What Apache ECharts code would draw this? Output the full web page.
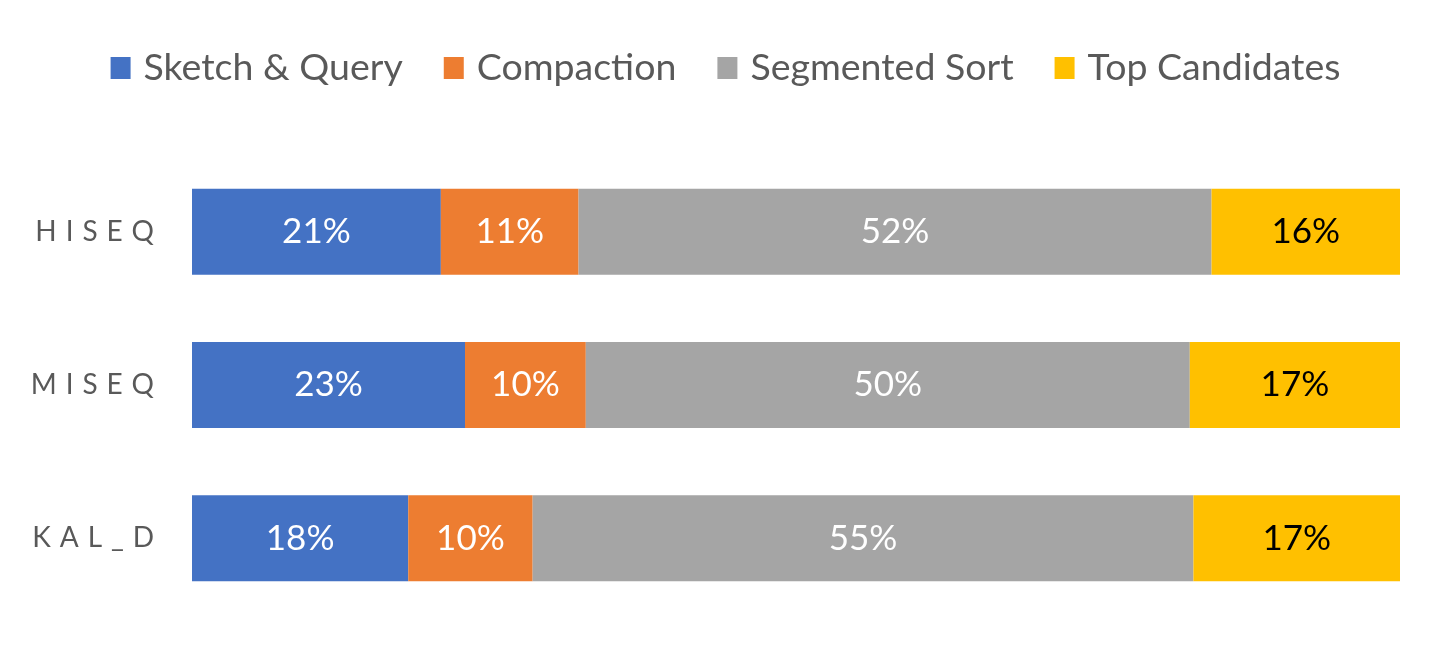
<!DOCTYPE html>
<html>
<head>
<meta charset="utf-8">
<script src="https://cdn.jsdelivr.net/npm/echarts@6/dist/echarts.min.js"></script>
<style>
html,body{margin:0;padding:0;background:#fff;}
#chart{width:1451px;height:665px;}
</style>
</head>
<body>
<div id="chart"></div>
<script>
const categories = ['HISEQ', 'MISEQ', 'KAL_D'];
const seriesNames = ['Sketch & Query', 'Compaction', 'Segmented Sort', 'Top Candidates'];
const sketchQuery = [20.6, 22.6, 17.9];
const compaction = [11.4, 10.0, 10.3];
const segmentedSort = [52.4, 50.0, 54.7];
const topCandidates = [15.6, 17.4, 17.1];
const colors = ['#4472C4', '#ED7D31', '#A5A5A5', '#FFC000'];
const labelColors = ['#ffffff', '#ffffff', '#ffffff', '#000000'];
const allValues = [sketchQuery, compaction, segmentedSort, topCandidates];

const FONT = 'Lato';
const chart = echarts.init(document.getElementById('chart'));
chart.setOption({
  animation: false,
  color: colors,
  textStyle: { fontFamily: FONT },
  legend: {
    top: 44,
    left: 'center',
    itemWidth: 20,
    itemHeight: 22,
    itemGap: 41,
    icon: 'rect',
    textStyle: { fontSize: 37.5, color: '#595959', fontFamily: FONT, padding: [0, 0, 0, 8] },
    data: seriesNames
  },
  grid: { left: 192, right: 51, top: 155, bottom: 50 },
  xAxis: {
    type: 'value', min: 0, max: 100, show: false
  },
  yAxis: {
    type: 'category',
    data: categories,
    inverse: true,
    axisLine: { show: false },
    axisTick: { show: false },
    axisLabel: {
      margin: 38,
      fontSize: 28,
      color: '#595959',
      fontFamily: FONT,
      formatter: v => v.split('').join(' \u200A')
    }
  },
  series: allValues.map((vals, i) => ({
    name: seriesNames[i],
    type: 'bar',
    stack: 'total',
    barWidth: 86,
    data: vals,
    itemStyle: { color: colors[i] },
    label: {
      show: true,
      position: 'inside',
      fontSize: 35,
      color: labelColors[i],
      fontFamily: FONT,
      formatter: p => Math.round(p.value) + '%'
    }
  }))
});
</script>
</body>
</html>
